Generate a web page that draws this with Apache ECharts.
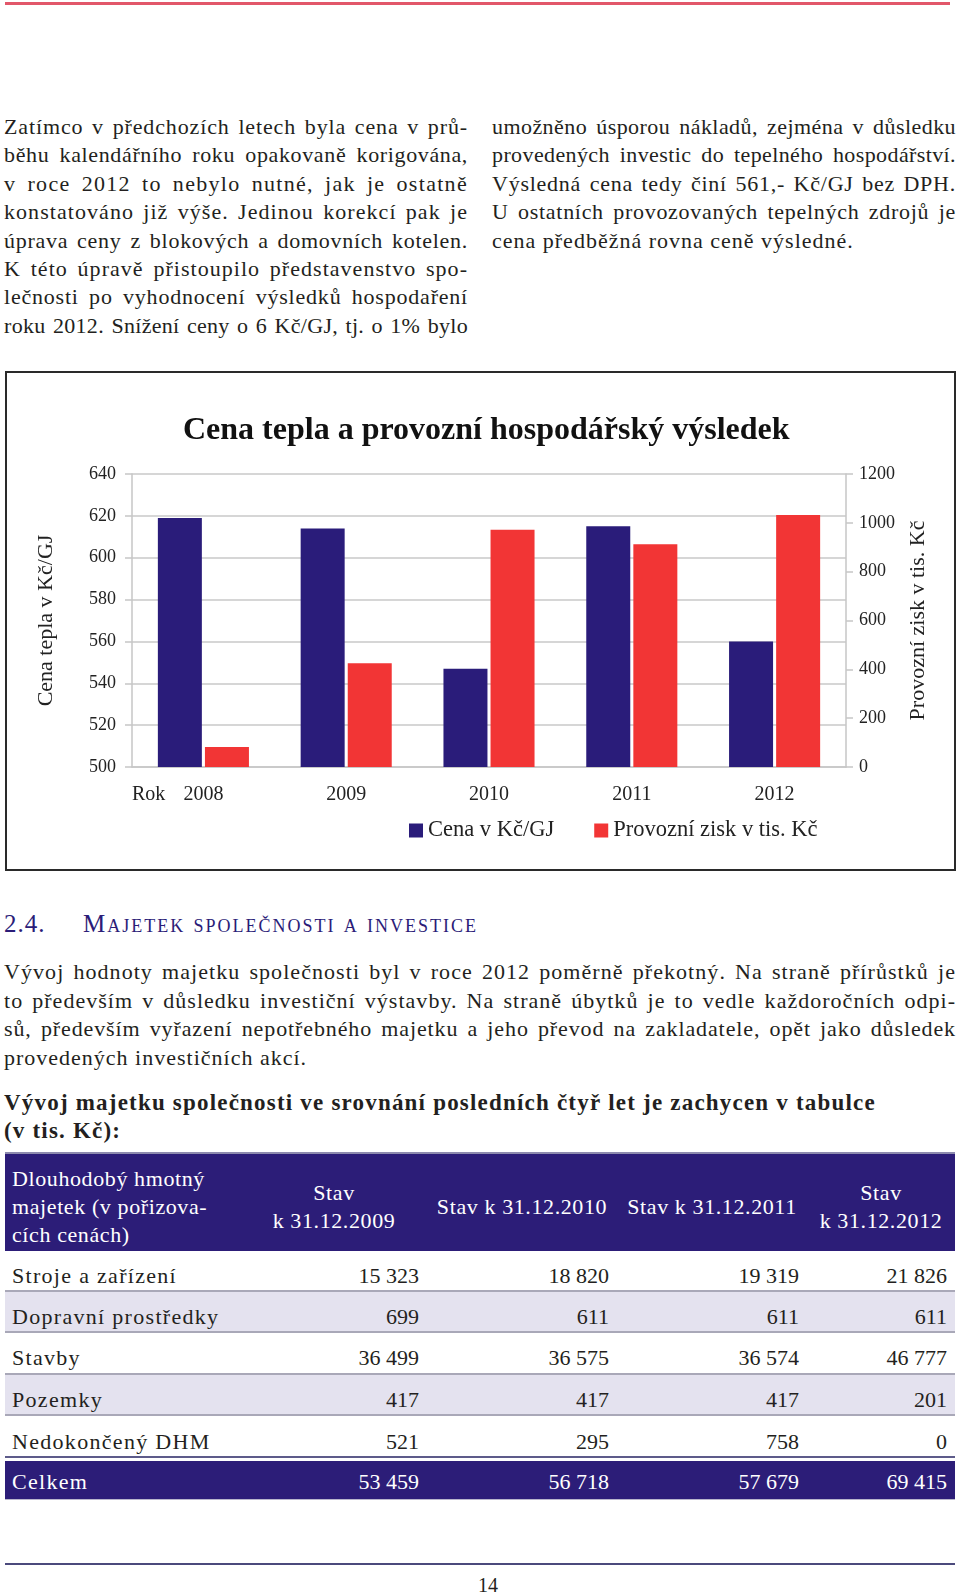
<!DOCTYPE html>
<html><head><meta charset="utf-8">
<script src="https://cdn.jsdelivr.net/npm/echarts@6/dist/echarts.min.js"></script>
<style>
html,body{margin:0;padding:0}
body{width:960px;height:1595px;position:relative;background:#fff;font-family:"Liberation Serif","DejaVu Serif",serif;color:#231f20;overflow:hidden}
.abs{position:absolute}
.col{font-size:22px;line-height:28.4px}
.j{text-align:justify;text-align-last:justify}
.l{text-align:left;letter-spacing:1px}
.row{position:absolute;left:5px;width:950px;font-size:22px;display:flex;align-items:center;box-sizing:border-box}
.row div{box-sizing:border-box}
</style></head><body>
<div class="abs" style="left:5px;top:2px;width:945px;height:3px;background:#e2576a"></div>

<div class="abs col" style="left:4px;top:113px;width:464px">
<div class="j">Zatímco v předchozích letech byla cena v prů-</div>
<div class="j">běhu kalendářního roku opakovaně korigována,</div>
<div class="j">v roce 2012 to nebylo nutné, jak je ostatně</div>
<div class="j">konstatováno již výše. Jedinou korekcí pak je</div>
<div class="j">úprava ceny z blokových a domovních kotelen.</div>
<div class="j">K této úpravě přistoupilo představenstvo spo-</div>
<div class="j">lečnosti po vyhodnocení výsledků hospodaření</div>
<div class="j">roku 2012. Snížení ceny o 6 Kč/GJ, tj. o 1% bylo</div>
</div>
<div class="abs col" style="left:492px;top:113px;width:464px">
<div class="j">umožněno úsporou nákladů, zejména v důsledku</div>
<div class="j">provedených investic do tepelného hospodářství.</div>
<div class="j">Výsledná cena tedy činí 561,- Kč/GJ bez DPH.</div>
<div class="j">U ostatních provozovaných tepelných zdrojů je</div>
<div class="l">cena předběžná rovna ceně výsledné.</div>
</div>

<div class="abs" style="left:5px;top:371px;width:951px;height:500px;border:2px solid #2a2a2a;box-sizing:border-box">
  <div id="chart" style="position:absolute;left:0;top:0;width:947px;height:496px"></div>
</div>

<div class="abs" style="left:4px;top:909px;font-size:25px;line-height:30px;color:#2b1c78;white-space:nowrap">
<span style="letter-spacing:1px">2.4.</span><span style="position:absolute;left:79px;font-variant:small-caps;letter-spacing:2px">Majetek společnosti a investice</span>
</div>

<div class="abs col" style="left:4px;top:958px;width:952px;line-height:28.5px">
<div class="j">Vývoj hodnoty majetku společnosti byl v roce 2012 poměrně překotný. Na straně přírůstků je</div>
<div class="j">to především v důsledku investiční výstavby. Na straně úbytků je to vedle každoročních odpi-</div>
<div class="j">sů, především vyřazení nepotřebného majetku a jeho převod na zakladatele, opět jako důsledek</div>
<div class="l">provedených investičních akcí.</div>
</div>

<div class="abs" style="left:4px;top:1089px;width:952px;font-size:23px;line-height:28px;font-weight:bold;letter-spacing:1.2px;white-space:nowrap">
<div>Vývoj majetku společnosti ve srovnání posledních čtyř let je zachycen v tabulce</div>
<div>(v tis. Kč):</div>
</div>

<div id="table"></div>

<div class="abs" style="left:5px;top:1563px;width:950px;height:2px;background:#4b4a7c"></div>
<div class="abs" style="left:0;top:1573px;width:976px;text-align:center;font-size:20px;line-height:24px">14</div>

<script>
// ---- chart data ----
const years = ['2008', '2009', '2010', '2011', '2012'];
const priceCZKperGJ = [619, 614, 547, 615, 560];
const operatingProfit = [82, 425, 972, 912, 1032];
const seriesNames = ['Cena v Kč/GJ', 'Provozní zisk v tis. Kč'];
const chartTitle = 'Cena tepla a provozní hospodářský výsledek';
const leftAxisName = 'Cena tepla v Kč/GJ';
const rightAxisName = 'Provozní zisk v tis. Kč';
const xAxisPrefix = 'Rok';

// ---- table data ----
const tableHeader = ['Dlouhodobý hmotný<br>majetek (v pořizova-<br>cích cenách)', 'Stav<br>k 31.12.2009', 'Stav k 31.12.2010', 'Stav k 31.12.2011', 'Stav<br>k 31.12.2012'];
const rowLabels = ['Stroje a zařízení', 'Dopravní prostředky', 'Stavby', 'Pozemky', 'Nedokončený DHM'];
const stav2009 = ['15 323', '699', '36 499', '417', '521'];
const stav2010 = ['18 820', '611', '36 575', '417', '295'];
const stav2011 = ['19 319', '611', '36 574', '417', '758'];
const stav2012 = ['21 826', '611', '46 777', '201', '0'];
const totalRow = ['Celkem', '53 459', '56 718', '57 679', '69 415'];

// ---- justified lines: widen letters a little (Garamond-like width) ----
document.querySelectorAll('.j').forEach(el => {
  const W = el.clientWidth;
  const txt = el.textContent.trim();
  el.style.textAlign = 'left';
  el.style.textAlignLast = 'left';
  const span = document.createElement('span');
  span.style.whiteSpace = 'nowrap';
  span.textContent = txt;
  el.textContent = '';
  el.appendChild(span);
  const w = span.getBoundingClientRect().width;
  const n = txt.length;
  let ls = (0.965 * W - w) / n;
  ls = Math.max(0, Math.min(1.3, ls));
  el.textContent = txt;
  el.style.letterSpacing = ls.toFixed(2) + 'px';
  el.style.textAlign = 'justify';
  el.style.textAlignLast = 'justify';
});

// ---- build table ----
const colW = [236, 186, 190, 190, 148];
const t = document.getElementById('table');
function cells(vals, header) {
  return vals.map((v, i) => {
    const align = header ? (i === 0 ? 'left' : 'center') : (i === 0 ? 'left' : 'right');
    const pad = i === 0 ? 'padding-left:7px;' : 'padding-right:8px;';
    const ls = header ? 'letter-spacing:0.6px;' : (i === 0 ? 'letter-spacing:1.3px;' : '');
    return '<div style="width:' + colW[i] + 'px;text-align:' + align + ';' + ls + (header && i > 0 ? '' : pad) + '">' + v + '</div>';
  }).join('');
}
let html = '';
html += '<div class="row" style="top:1152px;height:2px;background:#8d8aae"></div>';
html += '<div class="row" style="top:1154px;height:97px;padding-top:8px;background:#2c1d78;color:#fff;line-height:28px">' + cells(tableHeader, true) + '</div>';
const rowTops = [1251, 1292, 1333, 1375, 1416];
rowLabels.forEach((lab, r) => {
  const bg = r % 2 === 1 ? '#e4e2ef' : '#fff';
  const h = (r < 4 ? rowTops[r + 1] : 1457) - rowTops[r];
  html += '<div class="row" style="top:' + rowTops[r] + 'px;height:' + h + 'px;padding-top:10px;background:' + bg + ';border-bottom:' + (r < 4 ? '2px solid #a9a8b8' : '0') + '">' +
    cells([lab, stav2009[r], stav2010[r], stav2011[r], stav2012[r]], false) + '</div>';
});
html += '<div class="row" style="top:1456px;height:2px;background:#5d5b8a"></div>';
html += '<div class="row" style="top:1461px;height:38px;padding-top:4px;background:#2c1d78;color:#fff">' + cells(totalRow, false) + '</div>';
html += '<div class="row" style="top:1499px;height:1px;background:#b8b6cc"></div>';
t.innerHTML = html;

// ---- chart ----
const font = 'Liberation Serif';
const chart = echarts.init(document.getElementById('chart'), null, {renderer: 'canvas'});
const axisGray = '#c6c6c6';
chart.setOption({
  animation: false,
  textStyle: {fontFamily: font},
  title: {
    text: chartTitle, left: 171, top: 37,
    textStyle: {fontSize: 32, fontWeight: 'bold', color: '#111', fontFamily: font}
  },
  legend: {
    left: 397, top: 441, itemWidth: 14, itemHeight: 14, itemGap: 40, icon: 'rect',
    data: seriesNames,
    textStyle: {fontSize: 22.5, color: '#222', fontFamily: font}
  },
  graphic: [{
    type: 'text', left: 125, top: 412,
    style: {text: xAxisPrefix, fontSize: 20, fill: '#222', fontFamily: font}
  }],
  grid: {left: 125, top: 101, width: 714, height: 293},
  xAxis: {
    type: 'category', data: years,
    axisLine: {lineStyle: {color: axisGray, width: 1.5}},
    axisTick: {length: 9, lineStyle: {color: axisGray, width: 1.5}},
    axisLabel: {fontSize: 20, color: '#222', margin: 18, fontFamily: font}
  },
  yAxis: [{
    type: 'value', min: 500, max: 640, interval: 20,
    name: leftAxisName, nameLocation: 'middle', nameGap: 75,
    nameTextStyle: {fontSize: 22, color: '#222', fontFamily: font},
    axisLine: {show: true, lineStyle: {color: axisGray, width: 1.5}},
    axisTick: {show: true, length: 7, lineStyle: {color: axisGray, width: 1.5}},
    axisLabel: {fontSize: 18, color: '#222', margin: 16, fontFamily: font},
    splitLine: {lineStyle: {color: '#d6d6d6', width: 2}}
  }, {
    type: 'value', min: 0, max: 1200, interval: 200, position: 'right',
    name: rightAxisName, nameLocation: 'middle', nameGap: 61,
    nameTextStyle: {fontSize: 22, color: '#222', fontFamily: font},
    axisLine: {show: true, lineStyle: {color: axisGray, width: 1.5}},
    axisTick: {show: true, length: 7, lineStyle: {color: axisGray, width: 1.5}},
    axisLabel: {fontSize: 18, color: '#222', margin: 13, fontFamily: font, formatter: v => String(v)},
    splitLine: {show: false}
  }],
  series: [{
    name: seriesNames[0], type: 'bar', data: priceCZKperGJ,
    barWidth: 44, barGap: '7%', itemStyle: {color: '#2a1c7a'}
  }, {
    name: seriesNames[1], type: 'bar', yAxisIndex: 1, data: operatingProfit,
    barWidth: 44, itemStyle: {color: '#f23535'}
  }]
});
</script>
</body></html>
